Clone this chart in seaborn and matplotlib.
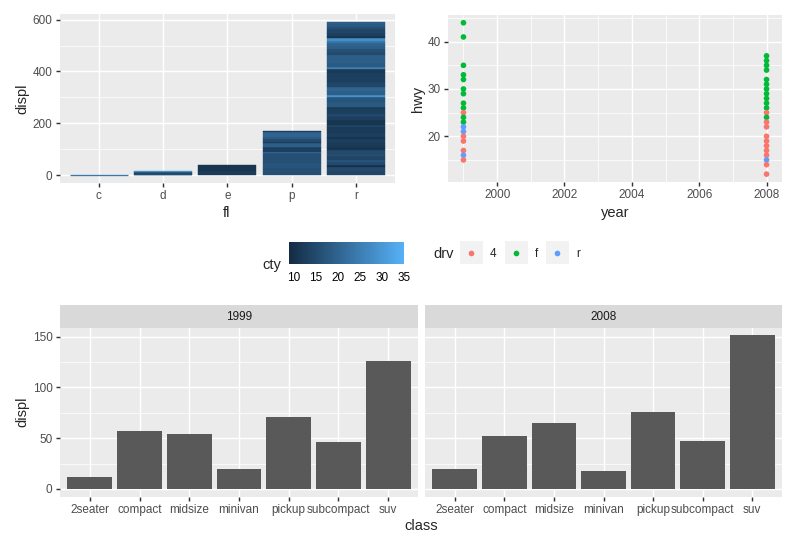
import numpy as np
import matplotlib
matplotlib.use("Agg")
import matplotlib.pyplot as plt
import seaborn as sns
from matplotlib.colors import LinearSegmentedColormap, Normalize
from matplotlib.cm import ScalarMappable
from matplotlib.ticker import MultipleLocator

# ---- values ----
fuel_types = ["c", "d", "e", "p", "r"]

# stacked pieces of each fuel bar, bottom to top: displ height and cty colour
fl_c_displ = [1.8]
fl_c_cty = [24]
fl_d_displ = [2.0, 1.9, 6.5, 1.9, 1.9]
fl_d_cty = [13, 16, 14, 22, 29]
fl_e_displ = [15.6, 23.0]
fl_e_cty = [12, 11]
fl_p_displ = [25.7, 19.3, 41.2, 2.6, 20.6, 12.9, 5.2, 10.3, 10.3, 18.0, 3.9]
fl_p_cty = [16, 17, 16, 22, 13, 19, 12, 15, 18, 20, 13]
fl_r_displ = [16.1, 16.1, 5.2, 14.8, 7.4, 14.8, 7.4, 14.8, 12.9, 12.9, 17.2, 6.4,
              17.2, 10.7, 12.9, 6.4, 19.3, 17.2, 6.4, 17.2, 10.7, 18.0, 18.0,
              9.0, 16.1, 16.1, 19.3, 19.3, 14.1, 14.2, 10.3, 12.9, 12.9, 19.3,
              10.9, 11.0, 11.6, 11.6, 10.3, 10.3, 7.7, 12.9, 12.9, 10.3, 10.3, 7.7]
fl_r_cty = [14, 15, 10, 15, 17, 14, 16, 15, 11, 12, 13, 11,
            13, 12, 12, 14, 11, 13, 15, 13, 12, 18, 17,
            29, 19, 20, 14, 13, 13, 12, 25, 18, 19, 19,
            15, 16, 19, 20, 23, 28, 11, 13, 14, 16, 18, 19]

years_pts = [1999] * 19 + [2008] * 23
hwy_pts = [44, 41, 35, 33, 32, 30, 29, 27, 26, 25, 24, 23, 22, 21, 20, 19, 17, 16, 15,
           37, 36, 35, 34, 32, 31, 30, 29, 28, 27, 26, 25, 24, 23, 22, 20, 19, 18, 17, 16, 15, 14, 12]
drv_pts = ["f", "f", "f", "f", "f", "f", "f", "f", "f", "4", "f", "f", "r", "r", "4", "4", "4", "r", "4",
           "f", "f", "f", "f", "f", "f", "f", "f", "f", "f", "f", "4", "f", "4", "4", "4", "4", "4", "4", "4", "r", "4", "4"]
drv_levels = ["4", "f", "r"]
drv_colors = ["#F8766D", "#00BA38", "#619CFF"]

classes = ["2seater", "compact", "midsize", "minivan", "pickup", "subcompact", "suv"]
displ_1999 = [12.1, 57.5, 54.6, 20.0, 70.5, 46.7, 125.9]
displ_2008 = [20.0, 52.6, 65.5, 18.0, 76.3, 47.7, 151.3]

W, H, DPI = 797, 549, 96
sns.set_style("darkgrid", {"axes.facecolor": "#EBEBEB", "grid.color": "white",
                           "axes.edgecolor": "none"})
plt.rcParams["font.family"] = ["Liberation Sans", "DejaVu Sans"]

fig = plt.figure(figsize=(W / DPI, H / DPI), dpi=DPI)
fig.patch.set_facecolor("white")


def px_axes(x0, y0, x1, y1):
    return fig.add_axes([x0 / W, 1 - y1 / H, (x1 - x0) / W, (y1 - y0) / H])


def gg_style(ax, left=True):
    for s in ax.spines.values():
        s.set_visible(False)
    ax.grid(True, which="major", color="white", lw=1.07)
    ax.grid(True, which="minor", color="white", lw=0.53)
    ax.tick_params(which="major", bottom=True, left=left, length=2.75, width=1.07,
                   color="#333333", labelsize=8.8, labelcolor="#4D4D4D", pad=2.8)
    ax.tick_params(which="minor", bottom=False, left=False, length=0)
    ax.set_axisbelow(True)
    ax.set_xlabel("")
    ax.set_ylabel("")


gg_blue = LinearSegmentedColormap.from_list("gg", ["#132B43", "#56B1F7"])
cty_norm = Normalize(9, 35)

# ---- top left: stacked displ by fuel, coloured by cty ----
ax1 = px_axes(60, 14.4, 394.5, 182.7)
pieces = [(fl_c_displ, fl_c_cty), (fl_d_displ, fl_d_cty), (fl_e_displ, fl_e_cty),
          (fl_p_displ, fl_p_cty), (fl_r_displ, fl_r_cty)]
for i, (hts, cty) in enumerate(pieces):
    hts = np.array(hts)
    bottoms = np.concatenate([[0], np.cumsum(hts)[:-1]])
    cols = gg_blue(cty_norm(np.array(cty)))
    ax1.bar([i] * len(hts), hts, bottom=bottoms, width=0.9, color=cols,
            edgecolor=cols, linewidth=1.0 if len(hts) == 1 else 0.3)
ax1.set_xticks(range(len(fuel_types)))
ax1.set_xticklabels(fuel_types)
ax1.set_xlim(-0.6, 4.6)
ax1.set_ylim(-29.6, 620.5)
ax1.yaxis.set_major_locator(MultipleLocator(200))
ax1.yaxis.set_minor_locator(MultipleLocator(100))
gg_style(ax1)
ax1.xaxis.grid(True, which="minor", lw=0)

# ---- top right: hwy by year ----
ax2 = px_axes(448.3, 15.2, 781.7, 181.7)
sns.scatterplot(x=years_pts, y=hwy_pts, hue=drv_pts, hue_order=drv_levels,
                palette=dict(zip(drv_levels, drv_colors)), s=18, linewidth=0,
                legend=False, ax=ax2)
ax2.set_xlim(1998.55, 2008.45)
ax2.set_ylim(10.4, 45.6)
ax2.xaxis.set_major_locator(MultipleLocator(2))
ax2.xaxis.set_minor_locator(MultipleLocator(1))
ax2.yaxis.set_major_locator(MultipleLocator(10))
ax2.yaxis.set_minor_locator(MultipleLocator(5))
gg_style(ax2)

# ---- bottom: displ by class, faceted by year ----
panels = [(60, 418, displ_1999, "1999"), (425, 782, displ_2008, "2008")]
for k, (x0, x1, vals, lab) in enumerate(panels):
    ax = px_axes(x0, 327.7, x1, 496.7)
    sns.barplot(x=classes, y=vals, order=classes, color="#595959", saturation=1,
                width=0.9, errorbar=None, linewidth=0, ax=ax)
    ax.set_xlim(-0.6, 6.6)
    ax.set_ylim(-7.6, 158.9)
    ax.yaxis.set_major_locator(MultipleLocator(50))
    ax.yaxis.set_minor_locator(MultipleLocator(25))
    gg_style(ax, left=(k == 0))
    if k > 0:
        ax.set_yticklabels([])
    strip = px_axes(x0, 305, x1, 327.7)
    strip.set_facecolor("#D9D9D9")
    strip.set_xticks([])
    strip.set_yticks([])
    strip.grid(False)
    for s in strip.spines.values():
        s.set_visible(False)
    strip.text(0.5, 0.48, lab, ha="center", va="center", fontsize=8.8,
               color="#1A1A1A", transform=strip.transAxes)

# ---- colourbar for cty ----
cax = px_axes(289, 242.3, 404, 264.3)
cb = fig.colorbar(ScalarMappable(norm=cty_norm, cmap=gg_blue), cax=cax,
                  orientation="horizontal")
cb.outline.set_visible(False)
cb.set_ticks([10, 15, 20, 25, 30, 35])
cax.tick_params(direction="in", top=True, bottom=True, color="white", length=3.4,
                width=0.8, labelsize=8.8, labelcolor="black", pad=5.5)
cax.grid(False)

# ---- overlay for titles and drv legend (pixel coordinates) ----
ov = fig.add_axes([0, 0, 1, 1])
ov.set_xlim(0, W)
ov.set_ylim(H, 0)
ov.axis("off")
ov.patch.set_visible(False)

ov.text(22, 98.5, "displ", rotation=90, ha="center", va="center", fontsize=11)
ov.text(227, 212.7, "fl", ha="center", va="center", fontsize=11)
ov.text(418, 98.5, "hwy", rotation=90, ha="center", va="center", fontsize=11)
ov.text(615, 213, "year", ha="center", va="center", fontsize=11)
ov.text(22, 412, "displ", rotation=90, ha="center", va="center", fontsize=11)
ov.text(421, 526, "class", ha="center", va="center", fontsize=11)
ov.text(262, 265, "cty", ha="left", va="center", fontsize=11)

ov.text(433, 254, "drv", ha="left", va="center", fontsize=11)
key_x = [460, 505, 546]
for kx, lvl, col in zip(key_x, drv_levels, drv_colors):
    ov.add_patch(plt.Rectangle((kx, 241), 23, 23, facecolor="#F2F2F2", edgecolor="none"))
    ov.scatter([kx + 11.5], [252.5], s=18, color=col, linewidth=0)
    ov.text(kx + 30, 254, lvl, ha="left", va="center", fontsize=8.8)

fig.savefig("out.png", dpi=DPI, facecolor="white")
